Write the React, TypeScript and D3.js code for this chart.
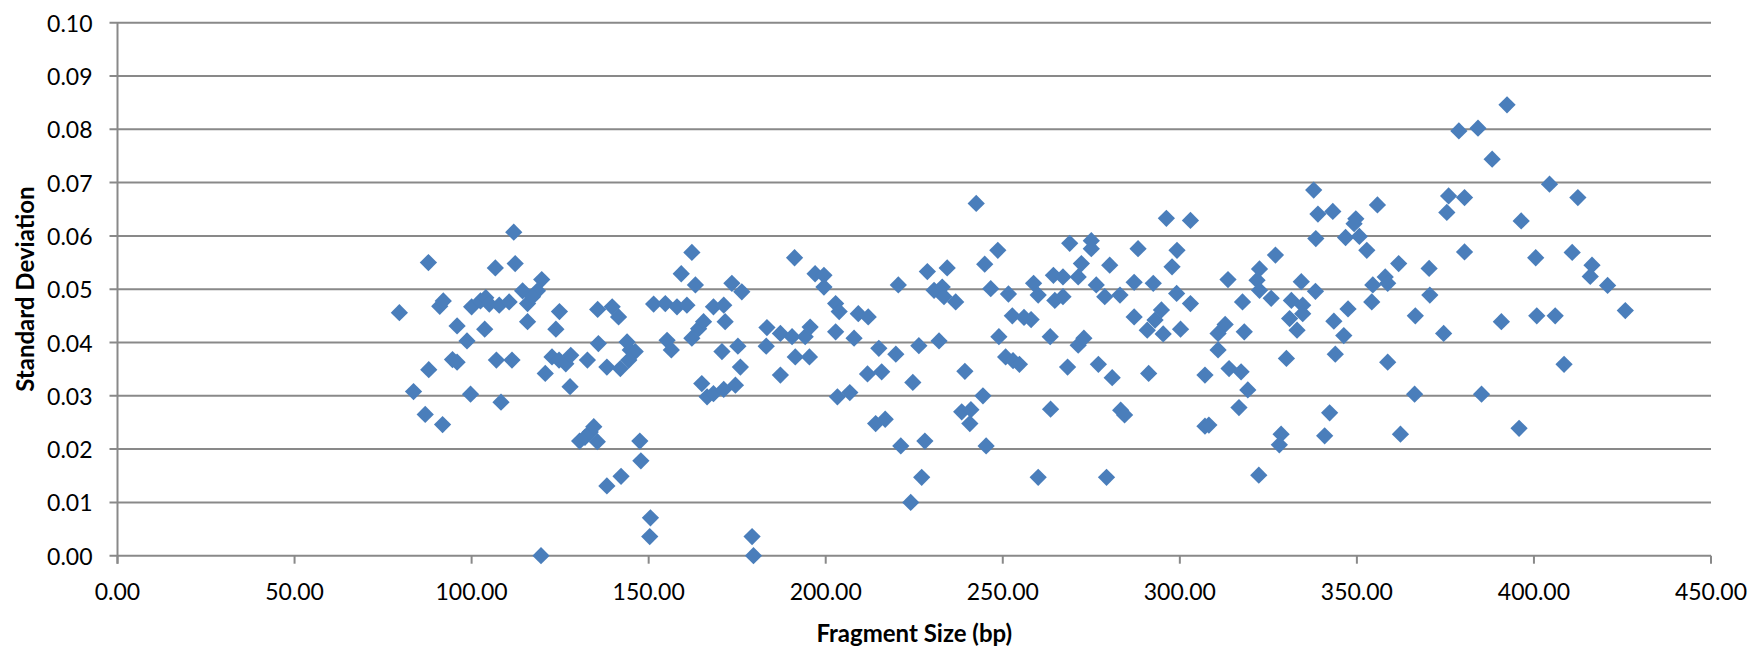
import React from "react";
import * as d3 from "d3";

// Fragment size (bp) of each measured fragment
const fragmentSizes: number[] = [
  79.6, 87.8, 91.0, 92.0, 95.9, 98.7, 94.6, 95.9, 87.9, 83.6, 86.9, 91.8, 99.7, 108.3, 103.7, 100.0,
  102.5, 104.0, 105.0, 106.7, 107.8, 110.6, 112.3, 111.9, 107.0, 111.4, 114.4, 115.8, 119.8, 118.6,
  117.2, 115.8, 119.6, 120.8, 124.8, 123.8, 122.7, 124.7, 126.6, 128.0, 127.8, 132.7, 130.5, 132.0,
  133.5, 134.5, 135.5, 135.6, 135.8,
  139.7, 141.5, 138.2, 142.0, 143.9, 144.8, 146.2, 144.4, 138.2, 142.2, 147.5, 147.8, 150.5, 150.3,
  151.4, 154.7, 158.0, 160.8, 155.2, 156.4, 159.2, 162.2, 163.2, 164.1, 162.2, 165.5, 168.3, 171.2,
  171.6, 165.0, 166.5, 168.3, 171.2, 174.5, 175.9, 170.7, 175.2, 173.5, 176.3, 179.2, 179.6, 183.4,
  183.2, 187.2, 187.2, 191.2, 190.5, 191.4, 194.2, 195.6, 195.4, 197.0,
  199.5, 199.5, 202.8, 203.8, 202.8, 209.2, 212.0, 208.0, 215.0, 219.8, 211.8, 215.8, 203.3, 206.8,
  214.1, 216.8, 220.5, 221.2, 226.3, 224.6, 227.1, 224.0, 228.0, 228.7, 230.6, 232.9, 233.4, 234.3,
  236.7, 232.0, 239.3, 242.5, 244.9, 248.6, 246.6, 251.6, 244.4, 238.4, 241.0, 240.7, 245.3, 248.9,
  250.8, 252.9, 254.7, 252.7, 256.0, 258.0, 258.7, 260.0,
  260.0, 264.3, 264.7, 267.0, 267.0, 268.9, 271.3, 272.2, 275.0, 275.0, 276.4, 278.8, 280.2, 283.1,
  263.4, 271.3, 272.9, 268.3, 277.0, 280.9, 263.5, 283.3, 284.4, 279.3, 287.1, 288.2, 287.1, 290.8,
  292.5, 293.0, 294.8, 295.3, 291.2, 296.2, 297.8, 299.2, 299.1, 300.2, 303.0, 303.0, 307.1, 307.1,
  308.2, 313.6, 312.8, 310.8, 310.8, 317.7, 313.9, 317.3, 318.2, 319.2, 316.7,
  322.3, 322.5, 321.8, 322.5, 325.8, 327.0, 328.6, 328.1, 330.1, 331.5, 331.0, 333.1, 334.7, 334.3,
  334.7, 337.8, 339.0, 338.4, 338.3, 343.2, 340.9, 342.3, 343.5, 343.9, 347.5, 346.3, 346.8, 349.7,
  349.2, 350.7, 352.8, 355.8, 354.5, 354.2, 358.0, 358.7, 358.7, 361.8, 362.3, 366.5, 366.3, 370.4,
  370.6, 374.5, 375.9, 375.4, 380.4, 380.4,
  378.8, 384.2, 392.4, 388.2, 404.4, 412.4, 396.4, 400.5, 410.8, 416.4, 415.9, 420.8, 425.8, 390.8,
  400.8, 406.0, 408.5, 385.2, 395.8,
];

// Standard deviation for the fragment at the same index
const standardDeviations: number[] = [
  0.0456, 0.0550, 0.0468, 0.0478, 0.0431, 0.0403, 0.0368, 0.0363, 0.0349, 0.0308, 0.0265, 0.0246, 0.0303, 0.0288, 0.0425, 0.0467,
  0.0478, 0.0484, 0.0472, 0.0540, 0.0470, 0.0476, 0.0548, 0.0607, 0.0367, 0.0367, 0.0497, 0.0473, 0.0518, 0.0497,
  0.0486, 0.0439, 0.0000, 0.0342, 0.0458, 0.0425, 0.0373, 0.0367, 0.0360, 0.0376, 0.0317, 0.0367, 0.0215, 0.0222,
  0.0232, 0.0242, 0.0214, 0.0462, 0.0398,
  0.0467, 0.0448, 0.0354, 0.0351, 0.0401, 0.0386, 0.0383, 0.0367, 0.0131, 0.0149, 0.0215, 0.0178, 0.0071, 0.0036,
  0.0472, 0.0473, 0.0467, 0.0470, 0.0404, 0.0386, 0.0529, 0.0569, 0.0508, 0.0426, 0.0408, 0.0439, 0.0467, 0.0470,
  0.0439, 0.0323, 0.0298, 0.0304, 0.0312, 0.0320, 0.0354, 0.0383, 0.0393, 0.0511, 0.0495, 0.0036, 0.0000, 0.0428,
  0.0393, 0.0417, 0.0339, 0.0559, 0.0411, 0.0373, 0.0411, 0.0429, 0.0373, 0.0529,
  0.0526, 0.0504, 0.0473, 0.0458, 0.0420, 0.0454, 0.0448, 0.0408, 0.0389, 0.0378, 0.0341, 0.0345, 0.0298, 0.0306,
  0.0248, 0.0256, 0.0508, 0.0206, 0.0394, 0.0325, 0.0147, 0.0100, 0.0215, 0.0533, 0.0498, 0.0504, 0.0486, 0.0540,
  0.0476, 0.0403, 0.0346, 0.0661, 0.0547, 0.0573, 0.0501, 0.0491, 0.0300, 0.0270, 0.0274, 0.0248, 0.0206, 0.0411,
  0.0373, 0.0366, 0.0359, 0.0450, 0.0447, 0.0443, 0.0511, 0.0147,
  0.0489, 0.0526, 0.0479, 0.0523, 0.0486, 0.0586, 0.0523, 0.0548, 0.0591, 0.0576, 0.0508, 0.0486, 0.0545, 0.0489,
  0.0411, 0.0395, 0.0408, 0.0354, 0.0359, 0.0334, 0.0275, 0.0273, 0.0264, 0.0147, 0.0513, 0.0576, 0.0448, 0.0423,
  0.0511, 0.0442, 0.0461, 0.0416, 0.0342, 0.0633, 0.0542, 0.0573, 0.0492, 0.0425, 0.0629, 0.0473, 0.0339, 0.0243,
  0.0245, 0.0518, 0.0434, 0.0417, 0.0386, 0.0476, 0.0351, 0.0345, 0.0420, 0.0311, 0.0278,
  0.0151, 0.0538, 0.0517, 0.0498, 0.0483, 0.0564, 0.0228, 0.0208, 0.0370, 0.0479, 0.0445, 0.0423, 0.0470, 0.0514,
  0.0454, 0.0686, 0.0641, 0.0595, 0.0496, 0.0646, 0.0225, 0.0268, 0.0440, 0.0378, 0.0463, 0.0413, 0.0597, 0.0632,
  0.0623, 0.0599, 0.0573, 0.0658, 0.0508, 0.0476, 0.0523, 0.0511, 0.0363, 0.0548, 0.0228, 0.0450, 0.0303, 0.0539,
  0.0489, 0.0417, 0.0675, 0.0644, 0.0672, 0.0570,
  0.0797, 0.0802, 0.0846, 0.0744, 0.0697, 0.0672, 0.0628, 0.0559, 0.0569, 0.0545, 0.0524, 0.0507, 0.0460, 0.0439,
  0.0450, 0.0450, 0.0359, 0.0303, 0.0239,
];

const xTicks: number[] = [0, 50, 100, 150, 200, 250, 300, 350, 400, 450];
const yTicks: number[] = [0, 0.01, 0.02, 0.03, 0.04, 0.05, 0.06, 0.07, 0.08, 0.09, 0.1];

const xTitle = "Fragment Size (bp)";
const yTitle = "Standard Deviation";

const WIDTH = 1756;
const HEIGHT = 646;
const LEFT = 117.5;
const RIGHT = 1711;
const TOP = 22.7;
const BOTTOM = 555.7;

const GRID = "#898989";
const MARKER = "#4a7ebb";
const FONT = "Lato, 'Open Sans', sans-serif";

export default function App() {
  const x = d3.scaleLinear().domain([0, 450]).range([LEFT, RIGHT]);
  const y = d3.scaleLinear().domain([0, 0.1]).range([BOTTOM, TOP]);
  const diamond = d3.symbol().type(d3.symbolDiamond2).size(190)();

  const points = fragmentSizes.map((s, i) => ({ s, d: standardDeviations[i] }));

  return (
    <svg
      width={WIDTH}
      height={HEIGHT}
      style={{ position: "absolute", left: 0, top: 0, background: "#fff" }}
      fontFamily={FONT}
    >
      {/* horizontal gridlines with outer tick stubs */}
      {yTicks.map((t) => (
        <line
          key={"g" + t}
          x1={LEFT - 8}
          x2={RIGHT}
          y1={y(t)}
          y2={y(t)}
          stroke={GRID}
          strokeWidth={2}
        />
      ))}
      {/* y axis */}
      <line x1={LEFT} x2={LEFT} y1={TOP} y2={BOTTOM + 8} stroke={GRID} strokeWidth={2} />
      {/* x axis ticks */}
      {xTicks.map((t) => (
        <line
          key={"xt" + t}
          x1={x(t)}
          x2={x(t)}
          y1={BOTTOM}
          y2={BOTTOM + 8}
          stroke={GRID}
          strokeWidth={2}
        />
      ))}
      {/* y tick labels */}
      {yTicks.map((t) => (
        <text
          key={"yl" + t}
          x={LEFT - 25}
          y={y(t)}
          textAnchor="end"
          dominantBaseline="central"
          fontSize={23}
          fill="#000"
        >
          {t.toFixed(2)}
        </text>
      ))}
      {/* x tick labels */}
      {xTicks.map((t) => (
        <text
          key={"xl" + t}
          x={x(t)}
          y={BOTTOM + 35}
          textAnchor="middle"
          dominantBaseline="central"
          fontSize={23}
          fill="#000"
        >
          {t.toFixed(2)}
        </text>
      ))}
      {/* axis titles */}
      <text
        x={(LEFT + RIGHT) / 2}
        y={632}
        textAnchor="middle"
        dominantBaseline="central"
        fontSize={24}
        fontWeight="bold"
        fill="#000"
      >
        {xTitle}
      </text>
      <text
        transform={`translate(24, ${(TOP + BOTTOM) / 2}) rotate(-90)`}
        textAnchor="middle"
        dominantBaseline="central"
        fontSize={24}
        fontWeight="bold"
        fill="#000"
      >
        {yTitle}
      </text>
      {/* scatter markers */}
      {points.map((p, i) => (
        <path
          key={"p" + i}
          d={diamond ?? ""}
          transform={`translate(${x(p.s)}, ${y(p.d)})`}
          fill={MARKER}
        />
      ))}
    </svg>
  );
}
